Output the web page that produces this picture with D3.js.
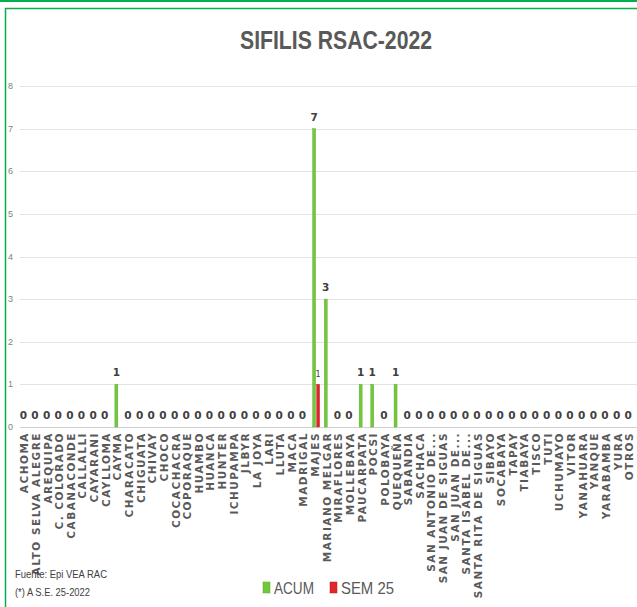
<!DOCTYPE html>
<html>
<head>
<meta charset="utf-8">
<script src="https://cdn.jsdelivr.net/npm/d3@7"></script>
<style>
  body { margin: 0; background: #fff; }
  svg { display: block; }
</style>
</head>
<body>
<div id="chart"></div>
<script>
const width = 637;
const height = 607;

// data
const categories = [
  "ACHOMA", "ALTO SELVA ALEGRE", "AREQUIPA", "C. COLORADO", "CABANACONDE", "CALLALLI",
  "CAYARANI", "CAYLLOMA", "CAYMA", "CHARACATO", "CHIGUATA", "CHIVAY", "CHOCO",
  "COCACHACRA", "COPORAQUE", "HUAMBO", "HUANCA", "HUNTER", "ICHUPAMPA", "JLBYR",
  "LA JOYA", "LARI", "LLUTA", "MACA", "MADRIGAL", "MAJES", "MARIANO MELGAR",
  "MIRAFLORES", "MOLLEBAYA", "PAUCARPATA", "POCSI", "POLOBAYA", "QUEQUEÑA",
  "SABANDIA", "SACHACA", "SAN ANTONIO DE...", "SAN JUAN DE SIGUAS", "SAN JUAN DE...",
  "SANTA ISABEL DE...", "SANTA RITA DE SIGUAS", "SIBAYO", "SOCABAYA", "TAPAY",
  "TIABAYA", "TISCO", "TUTI", "UCHUMAYO", "VITOR", "YANAHUARA", "YANQUE",
  "YARABAMBA", "YURA", "OTROS"
];
const acum = [
  0, 0, 0, 0, 0, 0, 0, 0, 1, 0, 0, 0, 0, 0, 0, 0, 0, 0, 0, 0, 0, 0, 0, 0, 0,
  7, 3, 0, 0, 1, 1, 0, 1,
  0, 0, 0, 0, 0, 0, 0, 0, 0, 0, 0, 0, 0, 0, 0, 0, 0, 0, 0, 0
];
const sem = [
  0, 0, 0, 0, 0, 0, 0, 0, 0, 0, 0, 0, 0, 0, 0, 0, 0, 0, 0, 0, 0, 0, 0, 0, 0,
  1, 0, 0, 0, 0, 0, 0, 0,
  0, 0, 0, 0, 0, 0, 0, 0, 0, 0, 0, 0, 0, 0, 0, 0, 0, 0, 0, 0
];
const seriesNames = ["ACUM", "SEM 25"];
const yTicks = [0, 1, 2, 3, 4, 5, 6, 7, 8];

const colors = { "ACUM": "#72c83a", "SEM 25": "#e0262a" };
const narrow = "'Liberation Sans Narrow', 'Arial Narrow', 'Liberation Sans', Arial, sans-serif";

const svg = d3.select("#chart").append("svg")
  .attr("width", width)
  .attr("height", height);

// green frame
svg.append("line")
  .attr("x1", 0).attr("x2", width).attr("y1", 1).attr("y2", 1)
  .attr("stroke", "#00b050").attr("stroke-width", 2);
svg.append("path")
  .attr("d", `M5.5,${height} V8.5 H${width}`)
  .attr("fill", "none")
  .attr("stroke", "#00b050").attr("stroke-width", 1.5);

// title (no narrow font installed, so squeeze it to the original width)
svg.append("text")
  .attr("x", 240).attr("y", 49)
  .attr("textLength", 192)
  .attr("lengthAdjust", "spacingAndGlyphs")
  .style("font-family", narrow)
  .style("font-weight", "bold")
  .style("font-size", "26px")
  .attr("fill", "#595959")
  .text("SIFILIS RSAC-2022");

// scales
const x = d3.scaleBand()
  .domain(categories)
  .range([19.5, 636]);

const xs = d3.scaleBand()
  .domain(seriesNames)
  .range([-4, 4]);

const y = d3.scaleLinear()
  .domain([0, 8])
  .range([427, 86]);

// grid
svg.append("g")
  .selectAll("line")
  .data(yTicks)
  .enter().append("line")
  .attr("x1", 20).attr("x2", width)
  .attr("y1", d => Math.round(y(d)) + 0.5)
  .attr("y2", d => Math.round(y(d)) + 0.5)
  .attr("stroke", d => d === 0 ? "#d0d0d0" : "#e3e3e3")
  .attr("stroke-width", 1);

// y tick labels
svg.append("g")
  .selectAll("text")
  .data(yTicks)
  .enter().append("text")
  .attr("x", 13)
  .attr("y", d => y(d) + 3)
  .attr("text-anchor", "end")
  .style("font-family", narrow)
  .style("font-size", "9px")
  .attr("fill", "#7f7f7f")
  .text(d => d);

// bars
const rows = categories.map((c, i) => ({ cat: c, "ACUM": acum[i], "SEM 25": sem[i] }));

const groups = svg.append("g")
  .selectAll("g")
  .data(rows)
  .enter().append("g")
  .attr("transform", d => `translate(${x(d.cat) + x.bandwidth() / 2},0)`);

groups.selectAll("rect")
  .data(d => seriesNames.map(s => ({ s: s, v: d[s] })))
  .enter().append("rect")
  .filter(d => d.v > 0)
  .attr("x", d => xs(d.s) + 0.5)
  .attr("width", xs.bandwidth() - 1)
  .attr("y", d => y(d.v))
  .attr("height", d => y(0) - y(d.v))
  .attr("fill", d => colors[d.s])
  .attr("stroke", d => d.s === "ACUM" ? "#5aa82c" : "#b81c1f")
  .attr("stroke-width", 0.4);

// value labels: ACUM always, SEM only when non-zero
groups.append("text")
  .attr("x", d => xs("ACUM") + xs.bandwidth() / 2)
  .attr("y", d => y(d["ACUM"]) - 8)
  .attr("text-anchor", "middle")
  .style("font-family", "'DejaVu Sans', Verdana, sans-serif")
  .style("font-weight", "bold")
  .style("font-size", "10.5px")
  .attr("fill", "#404040")
  .text(d => d["ACUM"]);

groups.filter(d => d["SEM 25"] > 0).append("text")
  .attr("x", d => xs("SEM 25") + xs.bandwidth() / 2)
  .attr("y", d => y(d["SEM 25"]) - 7)
  .attr("text-anchor", "middle")
  .style("font-family", "'DejaVu Sans', Verdana, sans-serif")
  .style("font-size", "8px")
  .attr("fill", "#404040")
  .text(d => d["SEM 25"]);

// category labels, rotated
svg.append("g")
  .selectAll("text")
  .data(categories)
  .enter().append("text")
  .attr("transform", d => `translate(${x(d) + x.bandwidth() / 2 + 3},432) rotate(-90)`)
  .attr("text-anchor", "end")
  .style("font-family", "'DejaVu Sans', Verdana, sans-serif")
  .style("font-weight", "bold")
  .style("font-size", "10.5px")
  .style("letter-spacing", "1.5px")
  .attr("fill", "#595959")
  .text(d => d);

// source notes
svg.append("text")
  .attr("x", 15).attr("y", 578)
  .attr("textLength", 92)
  .attr("lengthAdjust", "spacingAndGlyphs")
  .style("font-family", narrow)
  .style("font-size", "11.5px")
  .attr("fill", "#404040")
  .text("Fuente:  Epi VEA RAC");
svg.append("text")
  .attr("x", 15).attr("y", 596)
  .attr("textLength", 75)
  .attr("lengthAdjust", "spacingAndGlyphs")
  .style("font-family", narrow)
  .style("font-size", "11.5px")
  .attr("fill", "#404040")
  .text("(*) A S.E. 25-2022");

// legend
const legendX = [263, 330];
const legendW = [40, 53];
const legend = svg.append("g");
seriesNames.forEach((s, i) => {
  legend.append("rect")
    .attr("x", legendX[i]).attr("y", 582)
    .attr("width", 7).attr("height", 11)
    .attr("fill", colors[s])
    .attr("stroke", s === "ACUM" ? "#5aa82c" : "#b81c1f")
    .attr("stroke-width", 0.5);
  legend.append("text")
    .attr("x", legendX[i] + 11).attr("y", 594)
    .attr("textLength", legendW[i])
    .attr("lengthAdjust", "spacingAndGlyphs")
    .style("font-family", narrow)
    .style("font-size", "17px")
    .attr("fill", "#595959")
    .text(s);
});
</script>
</body>
</html>
